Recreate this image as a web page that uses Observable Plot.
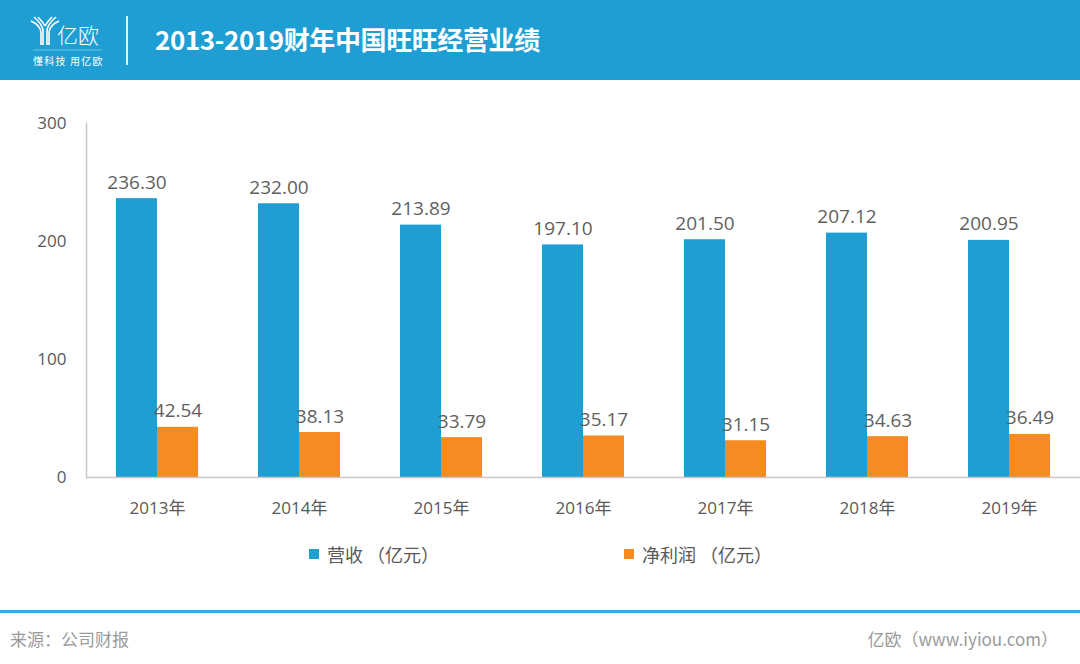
<!DOCTYPE html>
<html><head><meta charset="utf-8">
<script src="https://cdn.jsdelivr.net/npm/d3@7"></script>
<script src="https://cdn.jsdelivr.net/npm/@observablehq/plot@0.6"></script>
<style>
body{margin:0;background:#fff;width:1080px;height:664px;overflow:hidden;position:relative;font-family:"Open Sans","Noto Sans CJK SC",sans-serif;}
#header{position:absolute;left:0;top:0;width:1080px;height:80px;background:#1F9ED3;}
#title{position:absolute;left:155px;top:21px;color:#fff;font-family:"Noto Sans CJK SC",sans-serif;font-weight:700;font-size:26px;letter-spacing:-0.4px;line-height:36px;}
#vline{position:absolute;left:126px;top:16px;width:2px;height:49px;background:#fff;opacity:.85;}
#chart{position:absolute;left:0;top:80px;}
.leg{position:absolute;top:541px;font-family:"Noto Sans CJK SC",sans-serif;font-size:18px;color:#595959;display:flex;align-items:center;}
.sw{display:inline-block;width:10px;height:10px;margin-right:8px;}
#bline{position:absolute;left:0;top:610px;width:1080px;height:3px;background:#3AACDB;}
.foot{position:absolute;top:626px;font-family:"Noto Sans CJK SC",sans-serif;font-size:17px;color:#9a9a9a;}
</style></head><body>
<div id="header">
  <svg style="position:absolute;left:30px;top:14px" width="90" height="56">
    <g fill="none" stroke="#fff" stroke-width="1.6">
      <path d="M4 3 Q12 10 13 16 L13 31"/><path d="M8 3 Q13 8 15 12"/><path d="M22 3 Q17 8 15 12"/>
      <path d="M26 3 Q18 10 17 16 L17 31"/><path d="M1 7 Q10 11 11 18 L11 31"/><path d="M29 7 Q20 11 19 18 L19 31"/>
    </g>
    <text x="27" y="29" fill="#fff" font-family="Noto Sans CJK SC" font-size="21" font-weight="300">亿欧</text>
    <line x1="3" y1="36" x2="72" y2="36" stroke="#fff" stroke-width="0.7" opacity=".5"/>
    <text x="3" y="51" fill="#fff" font-family="Noto Sans CJK SC" font-size="10" letter-spacing="1.2">懂科技 用亿欧</text>
  </svg>
  <div id="vline"></div>
  <div id="title">2013-2019财年中国旺旺经营业绩</div>
</div>
<div id="chart"></div>
<div class="leg" style="left:309px"><span class="sw" style="background:#1F9ED3"></span>营收 （亿元）</div>
<div class="leg" style="left:624px"><span class="sw" style="background:#F48C23"></span>净利润 （亿元）</div>
<div id="bline"></div>
<div class="foot" style="left:10px">来源：公司财报</div>
<div class="foot" style="right:22px">亿欧（www.iyiou.com）</div>
<script>
const years = ["2013年","2014年","2015年","2016年","2017年","2018年","2019年"];
const revenue = [236.30, 232.00, 213.89, 197.10, 201.50, 207.12, 200.95];
const profit = [42.54, 38.13, 33.79, 35.17, 31.15, 34.63, 36.49];
const yTicks = [0, 100, 200, 300];
const seriesNames = ["营收（亿元）", "净利润（亿元）"];
const seriesColors = ["#1F9ED3", "#F48C23"];

const rev = years.map((y, i) => ({year: y, value: revenue[i]}));
const pro = years.map((y, i) => ({year: y, value: profit[i]}));
const half = 41;
const fmt = d3.format(".2f");
const ff = '"Open Sans","Noto Sans CJK SC",sans-serif';

const chart = Plot.plot({
  width: 1080, height: 440,
  marginLeft: 86, marginRight: 0, marginTop: 43, marginBottom: 43,
  style: {fontFamily: ff, color: "#595959", background: "transparent"},
  x: {type: "band", domain: years, paddingInner: 0.4225, paddingOuter: 0.2113, label: null, round: false},
  y: {domain: [0, 300], label: null},
  marks: [
    Plot.axisY({ticks: yTicks, tickSize: 0, tickPadding: 20, fontSize: 17, fill: "#595959", label: null}),
    Plot.axisX({tickSize: 0, tickPadding: 24, fontSize: 17, fill: "#595959", label: null, fontFamily: ff}),
    Plot.barY(rev, {x: "year", y: "value", fill: seriesColors[0], insetRight: half}),
    Plot.barY(pro, {x: "year", y: "value", fill: seriesColors[1], insetLeft: half}),
    Plot.text(rev, {x: "year", y: "value", text: d => fmt(d.value), dx: -20.5, dy: -10, lineAnchor: "bottom", fontSize: 19, fill: "#5f5f5f"}),
    Plot.text(pro, {x: "year", y: "value", text: d => fmt(d.value), dx: 20.5, dy: -10, lineAnchor: "bottom", fontSize: 19, fill: "#5f5f5f"}),
    Plot.frame({anchor: "left", stroke: "#C8C8C8", strokeWidth: 1.5}),
    Plot.ruleY([0], {stroke: "#C8C8C8", strokeWidth: 1.5})
  ]
});
document.getElementById("chart").appendChild(chart);
</script>
</body></html>
